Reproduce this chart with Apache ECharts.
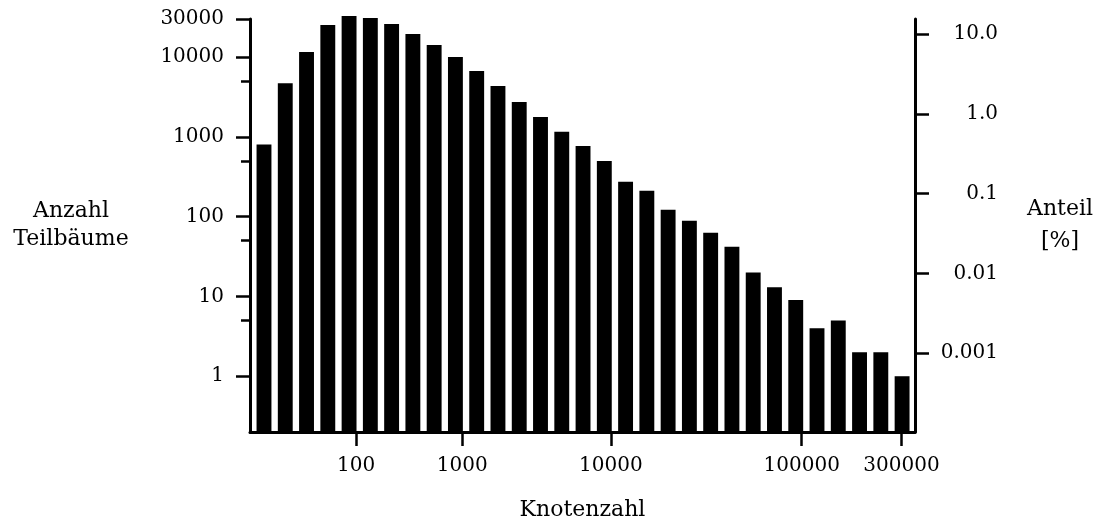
<!DOCTYPE html>
<html>
<head>
<meta charset="utf-8">
<script src="https://cdn.jsdelivr.net/npm/echarts@6/dist/echarts.min.js"></script>
<style>
html,body{margin:0;padding:0;background:#fff;}
#chart{width:1102px;height:526px;}
</style>
</head>
<body>
<div id="chart"></div>
<script>
// Number of subtrees per size bin (bins equally spaced along x)
const counts = [800, 4700, 11600, 25200, 32700, 30800, 25900, 19400, 14200, 10000,
                6700, 4350, 2740, 1780, 1160, 770, 500, 273, 211, 122,
                89, 63, 42, 20, 13, 9, 4, 5, 2, 2, 1];
// x tick labels (Knotenzahl) and where they fall in bin units
const xTickLabels = ['100', '1000', '10000', '100000', '300000'];
const xTickBins = [4.33, 9.32, 16.31, 25.28, 29.97];
// left axis
const leftLabelValues = [1, 10, 100, 1000, 10000, 30000];
const leftMinorValues = [5, 50, 500, 5000];
const Y_MIN = 0.2, Y_MAX = 30000;
// right axis (percent of all subtrees)
const rightLabelValues = [0.001, 0.01, 0.1, 1, 10];

const total = counts.reduce((a, b) => a + b, 0);
const data = counts.map((v, i) => [i, v]);
const FONT = 'DejaVu Serif';
const txt = { color: '#000', fontFamily: FONT, fontSize: 20 };
const nameTxt = { color: '#000', fontFamily: FONT, fontSize: 22 };

const chart = echarts.init(document.getElementById('chart'), null, { renderer: 'canvas' });
chart.setOption({
  animation: false,
  backgroundColor: '#fff',
  grid: { left: 250, right: 187, top: 19, bottom: 93, containLabel: false },
  xAxis: {
    type: 'value',
    min: -0.658, max: 30.607,
    name: 'Knotenzahl',
    nameLocation: 'middle',
    nameGap: 78,
    nameTextStyle: Object.assign({}, nameTxt, { verticalAlign: 'middle' }),
    axisLine: { show: true, onZero: false, lineStyle: { color: '#000', width: 3 } },
    axisTick: { show: true, length: 14, lineStyle: { color: '#000', width: 2.5 }, customValues: xTickBins },
    axisLabel: {
      show: true, margin: 24, ...txt,
      customValues: xTickBins,
      formatter: (v) => { const k = xTickBins.indexOf(v); return k >= 0 ? xTickLabels[k] : ''; }
    },
    splitLine: { show: false }
  },
  yAxis: [
    {
      type: 'log', position: 'left', min: Y_MIN, max: Y_MAX,
      name: 'Anzahl\nTeilbäume',
      nameLocation: 'middle', nameRotate: 0, nameGap: 179,
      nameTextStyle: Object.assign({}, nameTxt, { align: 'center', verticalAlign: 'middle', lineHeight: 28 }),
      axisLine: { show: true, onZero: false, lineStyle: { color: '#000', width: 3 } },
      axisTick: { show: true, length: 14, lineStyle: { color: '#000', width: 2.5 }, customValues: leftLabelValues },
      axisLabel: { show: true, margin: 26, ...txt, customValues: leftLabelValues, formatter: (v) => String(v) },
      splitLine: { show: false }
    },
    {
      type: 'log', position: 'right',
      min: Y_MIN / total * 100, max: Y_MAX / total * 100,
      name: 'Anteil\n[%]',
      nameLocation: 'middle', nameRotate: 0, nameGap: 145,
      nameTextStyle: Object.assign({}, nameTxt, { align: 'center', verticalAlign: 'middle', lineHeight: 32, padding: [0, 0, 16, 0] }),
      axisLine: { show: true, onZero: false, lineStyle: { color: '#000', width: 3 } },
      axisTick: { show: true, length: 14, lineStyle: { color: '#000', width: 2.5 }, customValues: rightLabelValues },
      axisLabel: {
        show: true, margin: 83, align: 'right', ...txt,
        customValues: rightLabelValues,
        formatter: (v) => v >= 1 ? Number(v).toFixed(1) : String(Number(v.toPrecision(3)))
      },
      splitLine: { show: false }
    },
    {
      type: 'log', position: 'left', min: Y_MIN, max: Y_MAX,
      axisLine: { show: false, onZero: false },
      axisTick: { show: true, length: 9, lineStyle: { color: '#000', width: 2.5 }, customValues: leftMinorValues },
      axisLabel: { show: false },
      splitLine: { show: false }
    }
  ],
  series: [{
    type: 'custom',
    xAxisIndex: 0,
    yAxisIndex: 0,
    clip: false,
    data: data,
    encode: { x: 0, y: 1 },
    renderItem: function (params, api) {
      const x = api.value(0), v = api.value(1);
      const left = api.coord([x - 0.35, v]);
      const right = api.coord([x + 0.35, v]);
      const base = api.coord([x, Y_MIN]);
      return {
        type: 'rect',
        shape: { x: left[0], y: left[1], width: right[0] - left[0], height: base[1] - left[1] },
        style: { fill: '#000' }
      };
    }
  }]
});
</script>
</body>
</html>
